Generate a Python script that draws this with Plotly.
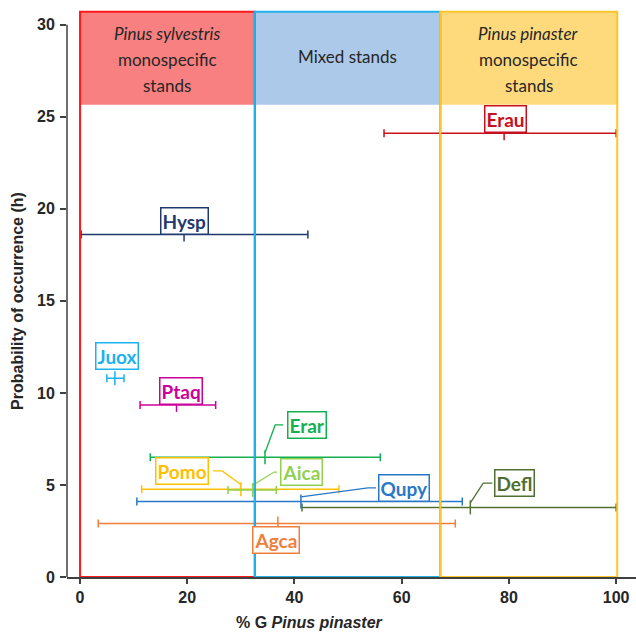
import plotly.graph_objects as go

# ---- data ----
species = ["Erau", "Hysp", "Juox", "Ptaq", "Erar", "Pomo", "Aica", "Qupy", "Defl", "Agca"]
center_x = [79.1, 19.4, 6.5, 18.0, 34.5, 30.0, 32.2, 41.2, 72.8, 36.9]
low_x = [56.7, 0.2, 5.0, 11.2, 13.1, 11.5, 27.6, 10.6, 41.4, 3.4]
high_x = [100.0, 42.5, 8.2, 25.3, 56.0, 48.3, 36.6, 71.3, 100.0, 70.0]
prob_y = [24.1, 18.6, 10.8, 9.35, 6.5, 4.77, 4.73, 4.1, 3.78, 2.9]
colors = ["#C8101E", "#1F3A6E", "#1CB2EE", "#CC0099", "#12B050", "#FFC000",
          "#92D050", "#2878C8", "#4F7032", "#F07E3C"]

# label positions (layout only)
label_x = [79.3, 19.4, 6.9, 18.8, 42.4, 19.0, 41.3, 60.4, 81.0, 36.6]
label_y = [24.9, 19.35, 12.0, 10.1, 8.26, 5.76, 5.7, 4.84, 5.1, 2.0]
# leader lines: species index -> (edge_x, elbow_x)
leaders = {4: (37.9, 36.4), 5: (24.8, 26.5), 6: (36.75, 36.2), 7: (55.2, 53.7), 8: (76.9, 75.2)}

# stand zones
zone_x0 = [0, 32.6, 67.2]
zone_x1 = [32.6, 67.2, 100.2]
zone_fill = ["#F98080", "#ADC9E9", "#FFDA7C"]
zone_line = ["#FF1A1A", "#22B2EA", "#FFC52A"]
header_y0 = 25.65
header_y1 = 30.7

fig = go.Figure()

# zone header fills
for i in range(3):
    fig.add_shape(type="rect", x0=zone_x0[i], x1=zone_x1[i], y0=header_y0, y1=header_y1,
                  fillcolor=zone_fill[i], line=dict(width=0), layer="below")

for i, sp in enumerate(species):
    fig.add_trace(go.Scatter(
        x=[center_x[i]], y=[prob_y[i]], mode="markers",
        marker=dict(symbol="line-ns-open", size=10, color=colors[i],
                    line=dict(color=colors[i], width=1.5)),
        error_x=dict(type="data", symmetric=False,
                     array=[high_x[i] - center_x[i]],
                     arrayminus=[center_x[i] - low_x[i]],
                     color=colors[i], thickness=1.5, width=4),
        showlegend=False, cliponaxis=False, name=sp))

# leader lines
for i, (ex, bx) in leaders.items():
    fig.add_shape(type="path",
                  path=f"M {ex},{label_y[i]} L {bx},{label_y[i]} L {center_x[i]},{prob_y[i] + 0.25}",
                  line=dict(color=colors[i], width=1.3), layer="above")

# labels
for i, sp in enumerate(species):
    fig.add_annotation(x=label_x[i], y=label_y[i], text=sp, showarrow=False,
                       font=dict(family="Lato", size=19, color=colors[i], weight="bold"),
                       bgcolor="white", bordercolor=colors[i], borderwidth=1.5, borderpad=1)

# zone outlines
for i in range(3):
    fig.add_shape(type="rect", x0=zone_x0[i], x1=zone_x1[i], y0=0, y1=header_y1,
                  fillcolor="rgba(0,0,0,0)", line=dict(color=zone_line[i], width=2), layer="above")

# header texts
hdr_font = dict(family="Lato", size=17, color="#262626")
fig.add_annotation(x=16.3, y=29.5, text="<i>Pinus sylvestris</i>", showarrow=False, font=hdr_font)
fig.add_annotation(x=16.3, y=28.1, text="monospecific", showarrow=False, font=hdr_font)
fig.add_annotation(x=16.3, y=26.7, text="stands", showarrow=False, font=hdr_font)
fig.add_annotation(x=49.9, y=28.3, text="Mixed stands", showarrow=False, font=hdr_font)
fig.add_annotation(x=83.7, y=29.5, text="<i>Pinus pinaster</i>", showarrow=False, font=hdr_font)
fig.add_annotation(x=83.7, y=28.1, text="monospecific", showarrow=False, font=hdr_font)
fig.add_annotation(x=83.7, y=26.7, text="stands", showarrow=False, font=hdr_font)

# axis titles
ttl_font = dict(family="Liberation Sans", size=16, color="#262626", weight="bold")
fig.add_annotation(xref="paper", yref="paper", x=0.427, y=-0.081, xanchor="center", yanchor="middle",
                   text="% G <i>Pinus pinaster</i>", showarrow=False, font=ttl_font)
fig.add_annotation(xref="paper", yref="paper", x=-0.086, y=0.487, xanchor="center", yanchor="middle",
                   text="Probability of occurrence (h)", textangle=-90, showarrow=False, font=ttl_font)

# y axis line (only up to 30)
fig.add_shape(type="line", xref="paper", x0=0, x1=0, yref="y", y0=0, y1=30,
              line=dict(color="#404040", width=1.5))

tick_font = dict(family="Liberation Sans", size=16, color="#262626", weight="bold")
fig.update_layout(
    width=636, height=634,
    margin=dict(l=67, r=0, t=10, b=57),
    plot_bgcolor="white", paper_bgcolor="white",
    xaxis=dict(range=[-2.43, 103.7], tickvals=[0, 20, 40, 60, 80, 100],
               showgrid=False, zeroline=False, showline=True, linecolor="#404040", linewidth=2,
               ticks="outside", ticklen=5, tickcolor="#404040", tickwidth=1.5,
               tickfont=tick_font),
    yaxis=dict(range=[0, 30.8], tickvals=[0, 5, 10, 15, 20, 25, 30],
               showgrid=False, zeroline=False, showline=False,
               ticks="outside", ticklen=6, tickcolor="#404040", tickwidth=1.5,
               ticklabelstandoff=2, tickfont=tick_font),
)

fig.write_html("out.html", config={"displayModeBar": False},
               post_script="document.body.style.margin='0';")
